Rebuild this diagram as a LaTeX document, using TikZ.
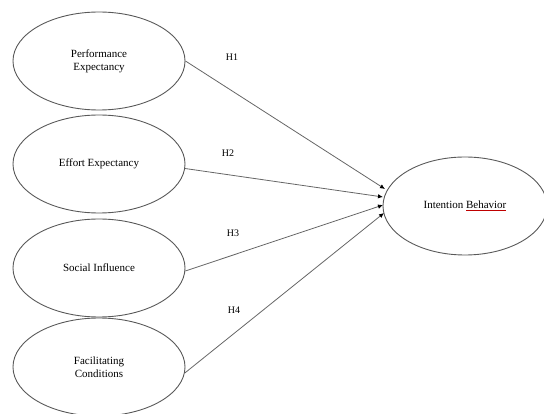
\documentclass[tikz,border=0pt]{standalone}
\usepackage{fontspec}
\setmainfont{Liberation Serif}
\usetikzlibrary{shapes.geometric,arrows.meta}
\newcommand{\redul}[1]{\rlap{\color{red!75!black}\underline{\phantom{#1}}}#1}
\begin{document}
\begin{tikzpicture}[x=1pt,y=-1pt,
  construct/.style={draw=black!65,line width=0.9pt,ellipse,minimum width=172pt,minimum height=98pt,inner sep=0pt,align=center,font=\fontsize{11}{13}\selectfont},
  path/.style={draw=black!60,line width=0.8pt,-{Latex[length=5pt,width=4.5pt,color=black]}},
  hyp/.style={font=\fontsize{10}{12}\selectfont}]
\useasboundingbox (0,0) rectangle (544,414);
\node[construct] (pe) at (99,61) {Performance\\Expectancy};
\node[construct] (ee) at (99,164) {Effort Expectancy};
\node[construct] (si) at (99,268) {Social Influence};
\node[construct] (fc) at (99,367) {Facilitating\\Conditions};
\node[construct,minimum width=164pt] (ib) at (465,206) {Intention \redul{Behavior}};
\coordinate (t1) at (385,189);
\coordinate (t2) at (383,197);
\coordinate (t3) at (383,205);
\coordinate (t4) at (384,213);
\draw[path] (pe.east) -- (t1);
\draw[path] (ee.-3) -- (t2);
\draw[path] (si.-2) -- (t3);
\draw[path] (fc.-4) -- (t4);
\node[hyp] (h1) at (232,57) {H1};
\node[hyp] (h2) at (228,153) {H2};
\node[hyp] (h3) at (233,233) {H3};
\node[hyp] (h4) at (234,310) {H4};
\end{tikzpicture}
\end{document}
